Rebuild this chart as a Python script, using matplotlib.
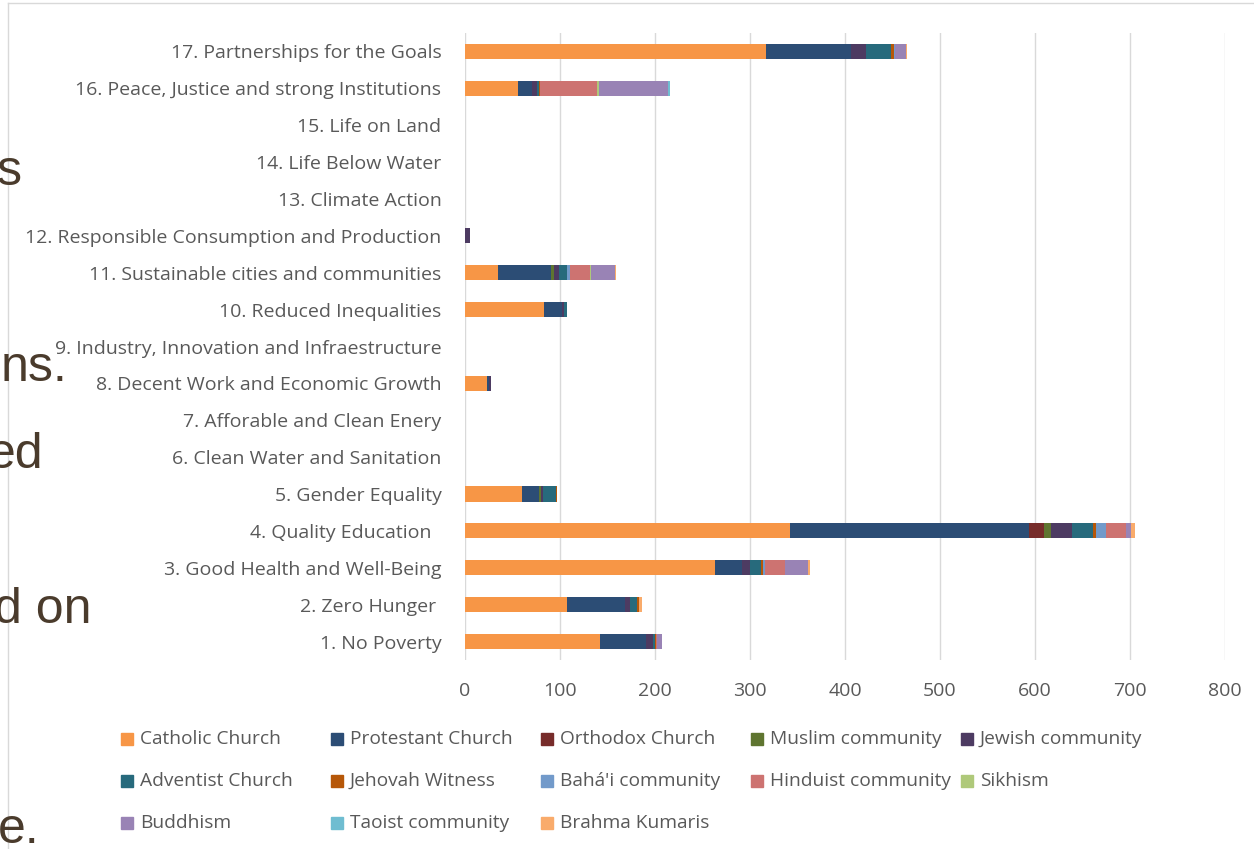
import numpy as np
import matplotlib.pyplot as plt
from matplotlib.patches import Rectangle
from matplotlib.lines import Line2D

goals = ['1. No Poverty', '2. Zero Hunger ', '3. Good Health and Well-Being',
         '4. Quality Education  ', '5. Gender Equality', '6. Clean Water and Sanitation',
         '7. Afforable and Clean Enery', '8. Decent Work and Economic Growth',
         '9. Industry, Innovation and Infraestructure', '10. Reduced Inequalities',
         '11. Sustainable cities and communities', '12. Responsible Consumption and Production',
         '13. Climate Action', '14. Life Below Water', '15. Life on Land',
         '16. Peace, Justice and strong Institutions', '17. Partnerships for the Goals']

religions = ['Catholic Church', 'Protestant Church', 'Orthodox Church', 'Muslim community',
             'Jewish community', 'Adventist Church', 'Jehovah Witness', "Bahá'i community",
             'Hinduist community', 'Sikhism', 'Buddhism', 'Taoist community', 'Brahma Kumaris']

colors = ['#F79646', '#2C4D75', '#772C2A', '#5F7530', '#4D3B62', '#276A7C', '#B65708',
          '#729ACA', '#CD7371', '#AFC97A', '#9983B5', '#6FBDD1', '#F9AB6B']

# one list per religion, values for goals 1..17
catholic   = [142, 107, 263, 342, 60, 0, 0, 23, 0, 83, 35, 0, 0, 0, 0, 56, 317]
protestant = [49, 61, 29, 252, 18, 0, 0, 2, 0, 19, 56, 0, 0, 0, 0, 14, 89]
orthodox   = [0, 0, 0, 15, 0, 0, 0, 0, 0, 0, 0, 0, 0, 0, 0, 1, 0]
muslim     = [0, 0, 0, 8, 2, 0, 0, 0, 0, 0, 3, 0, 0, 0, 0, 0, 0]
jewish     = [7, 6, 8, 22, 2, 0, 0, 2, 0, 2, 5, 5, 0, 0, 0, 5, 16]
adventist  = [2, 7, 12, 22, 14, 0, 0, 0, 0, 3, 8, 0, 0, 0, 0, 2, 26]
jehovah    = [1, 2, 2, 3, 1, 0, 0, 0, 0, 0, 0, 0, 0, 0, 0, 1, 4]
bahai      = [0, 0, 2, 11, 0, 0, 0, 0, 0, 0, 3, 0, 0, 0, 0, 0, 1]
hinduist   = [1, 0, 21, 21, 0, 0, 0, 0, 0, 0, 22, 0, 0, 0, 0, 60, 0]
sikhism    = [0, 0, 0, 0, 0, 0, 0, 0, 0, 0, 1, 0, 0, 0, 0, 2, 0]
buddhism   = [5, 0, 24, 5, 0, 0, 0, 0, 0, 0, 25, 0, 0, 0, 0, 73, 11]
taoist     = [0, 0, 0, 0, 0, 0, 0, 0, 0, 0, 0, 0, 0, 0, 0, 2, 0]
brahma     = [0, 3, 2, 4, 0, 0, 0, 0, 0, 0, 1, 0, 0, 0, 0, 0, 1]

series = [catholic, protestant, orthodox, muslim, jewish, adventist, jehovah,
          bahai, hinduist, sikhism, buddhism, taoist, brahma]

txt = '#595959'
plt.rcParams['font.family'] = ['Open Sans', 'DejaVu Sans']

fig = plt.figure(figsize=(12.54, 8.49), dpi=100)
ax = fig.add_axes([465/1254, 1 - 660/849, (1225 - 465)/1254, (660 - 33)/849])

y = np.arange(len(goals))
left = np.zeros(len(goals))
for vals, c, name in zip(series, colors, religions):
    ax.barh(y, vals, left=left, height=0.41, color=c, label=name, zorder=3)
    left += np.array(vals)

ax.set_xlim(0, 800)
ax.set_ylim(-0.5, 16.5)
ax.set_xticks(range(0, 801, 100))
ax.set_yticks(y)
ax.set_yticklabels(goals)
ax.tick_params(axis='both', length=0, colors=txt, labelsize=14)
ax.tick_params(axis='x', pad=16)
ax.tick_params(axis='y', pad=17)
ax.grid(axis='x', color='#D9D9D9', linewidth=1, zorder=0)
for s in ax.spines.values():
    s.set_visible(False)

# legend laid out row-wise like the original
for i, (name, c) in enumerate(zip(religions, colors)):
    row, col = divmod(i, 5)
    x0 = 121 + col * 210
    yc = 739 + row * 42
    fig.add_artist(Rectangle((x0/1254, 1 - (yc + 6)/849), 12/1254, 12/849,
                             transform=fig.transFigure, color=c))
    fig.text((x0 + 19)/1254, 1 - yc/849, name, color=txt, fontsize=13.8, va='center')

# chart border and clipped slide text behind it
fig.add_artist(Line2D([8/1254, 8/1254], [0, 1 - 3/849], color='#D9D9D9', lw=1))
fig.add_artist(Line2D([8/1254, 1], [1 - 3/849, 1 - 3/849], color='#D9D9D9', lw=1))
brown = '#4A3B2C'
for s, xr, yc in [('s', 22, 172), ('ns.', 68, 368), ('ed', 44, 455),
                  ('d on', 92, 610), ('e.', 40, 830)]:
    fig.text(xr/1254, 1 - yc/849, s, ha='right', va='center', fontsize=36,
             color=brown, family='Liberation Sans')

fig.savefig('out.png', dpi=100)
